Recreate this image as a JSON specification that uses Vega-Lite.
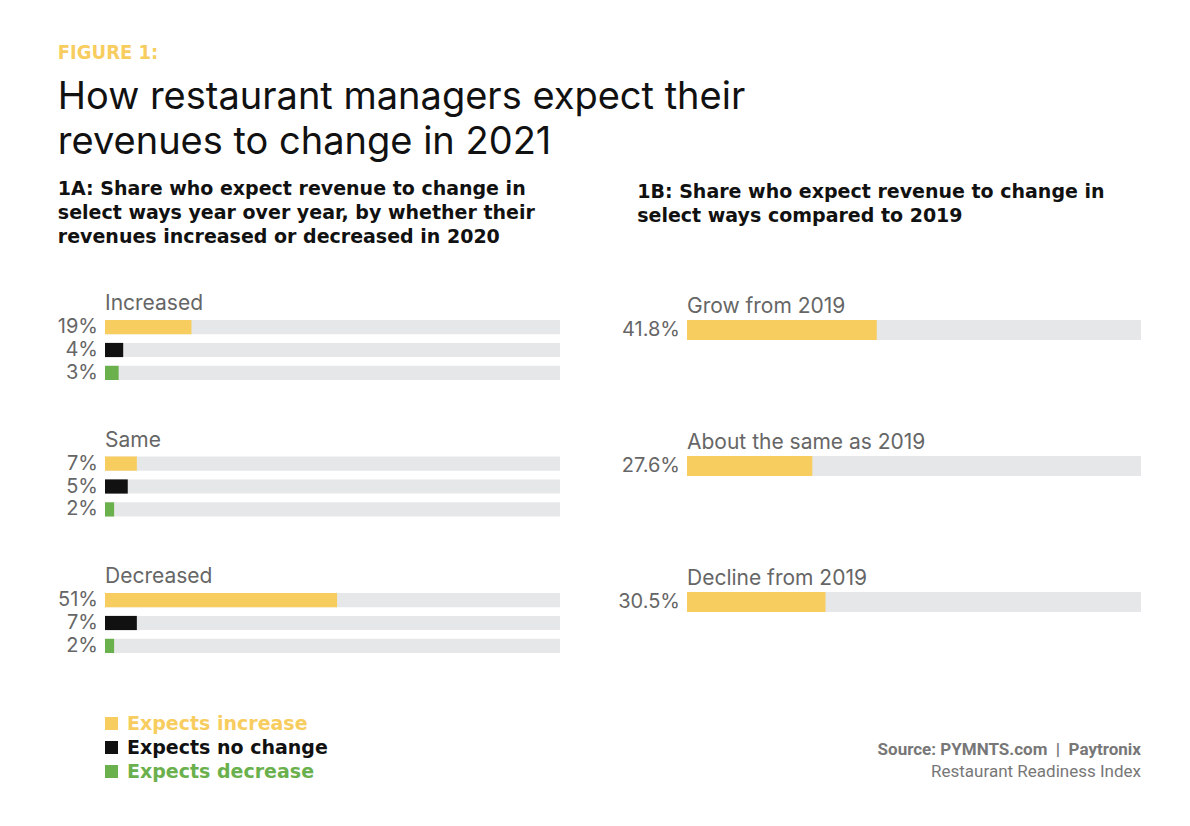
{
  "$schema": "https://vega.github.io/schema/vega-lite/v6.json",
  "background": "white",
  "padding": {"left": 57, "top": 43, "right": 30, "bottom": 20},
  "title": {
    "text": "FIGURE 1:",
    "subtitle": ["How restaurant managers expect their", "revenues to change in 2021"],
    "anchor": "start",
    "font": "DejaVu Sans Condensed",
    "fontSize": 20,
    "fontWeight": "bold",
    "color": "#f8cd5f",
    "subtitleFont": "Inter",
    "subtitleFontSize": 38,
    "subtitleColor": "#111111",
    "subtitleLineHeight": 45,
    "subtitlePadding": 16,
    "offset": 18
  },
  "config": {"view": {"stroke": null}, "font": "Inter"},
  "vconcat": [
    {
      "title": {
        "text": "Source: PYMNTS.com\u00a0\u00a0|\u00a0\u00a0Paytronix",
        "subtitle": "Restaurant Readiness Index",
        "orient": "bottom",
        "anchor": "end",
        "font": "Roboto",
        "fontSize": 17,
        "fontWeight": "bold",
        "color": "#777777",
        "subtitleFont": "Roboto",
        "subtitleFontSize": 17,
        "subtitleColor": "#777777",
        "subtitlePadding": 5,
        "offset": 86
      },
      "spacing": 58,
      "hconcat": [
        {
          "title": {
            "text": ["1A: Share who expect revenue to change in", "select ways year over year, by whether their", "revenues increased or decreased in 2020"],
            "anchor": "start",
            "font": "DejaVu Sans",
            "fontSize": 19,
            "fontWeight": "bold",
            "lineHeight": 24,
            "offset": 46,
            "color": "#111111"
          },
          "data": {
            "values": [
              {"group": "Increased", "series": "Expects increase", "value": 0.19},
              {"group": "Increased", "series": "Expects no change", "value": 0.04},
              {"group": "Increased", "series": "Expects decrease", "value": 0.03},
              {"group": "Same", "series": "Expects increase", "value": 0.07},
              {"group": "Same", "series": "Expects no change", "value": 0.05},
              {"group": "Same", "series": "Expects decrease", "value": 0.02},
              {"group": "Decreased", "series": "Expects increase", "value": 0.51},
              {"group": "Decreased", "series": "Expects no change", "value": 0.07},
              {"group": "Decreased", "series": "Expects decrease", "value": 0.02}
            ]
          },
          "facet": {
            "field": "group",
            "type": "nominal",
            "sort": ["Increased", "Same", "Decreased"],
            "header": {"title": null, "labelAnchor": "start", "labelAlign": "left", "labelFontSize": 21, "labelColor": "#666666", "labelFont": "Inter", "labelPadding": 3}
          },
          "columns": 1,
          "spacing": {"row": 46.5},
          "spec": {
            "width": 455,
            "height": 60,
            "encoding": {
              "y": {"field": "series", "type": "nominal", "sort": ["Expects increase", "Expects no change", "Expects decrease"], "axis": null, "scale": {"paddingInner": 0.38, "paddingOuter": 0, "align": 0}}
            },
            "layer": [
              {
                "mark": {"type": "bar", "color": "#e6e7e8"},
                "encoding": {
                  "x": {"datum": 1, "type": "quantitative", "scale": {"domain": [0, 1]}, "axis": null},
                  "x2": {"datum": 0}
                }
              },
              {
                "mark": {"type": "bar"},
                "encoding": {
                  "x": {"field": "value", "type": "quantitative", "scale": {"domain": [0, 1]}, "axis": null},
                  "color": {
                    "field": "series",
                    "type": "nominal",
                    "scale": {"domain": ["Expects increase", "Expects no change", "Expects decrease"], "range": ["#f8cd5f", "#111111", "#6ab04c"]},
                    "legend": {
                      "title": null,
                      "orient": "none",
                      "legendX": -3,
                      "legendY": 394,
                      "symbolType": "square",
                      "symbolSize": 169,
                      "symbolOpacity": 1,
                      "symbolStrokeWidth": 0,
                      "labelFont": "DejaVu Sans",
                      "labelFontSize": 19,
                      "labelFontWeight": "bold",
                      "labelOffset": 6,
                      "labelLimit": 400,
                      "rowPadding": 4,
                      "labelColor": {"expr": "datum.value === 'Expects increase' ? '#f8cd5f' : datum.value === 'Expects decrease' ? '#6ab04c' : '#111111'"}
                    }
                  }
                }
              },
              {
                "mark": {"type": "text", "align": "right", "baseline": "middle", "dx": -7, "fontSize": 20, "color": "#666666", "font": "Inter"},
                "encoding": {
                  "x": {"datum": 0, "type": "quantitative"},
                  "text": {"field": "value", "type": "quantitative", "format": ".0%"}
                }
              }
            ]
          }
        },
        {
          "title": {
            "text": ["1B: Share who expect revenue to change in", "select ways compared to 2019"],
            "anchor": "start",
            "font": "DejaVu Sans",
            "fontSize": 19,
            "fontWeight": "bold",
            "lineHeight": 24,
            "offset": 70,
            "dx": 19,
            "color": "#111111"
          },
          "data": {
            "values": [
              {"group": "Grow from 2019", "value": 0.418},
              {"group": "About the same as 2019", "value": 0.276},
              {"group": "Decline from 2019", "value": 0.305}
            ]
          },
          "facet": {
            "field": "group",
            "type": "nominal",
            "sort": ["Grow from 2019", "About the same as 2019", "Decline from 2019"],
            "header": {"title": null, "labelAnchor": "start", "labelAlign": "left", "labelFontSize": 21, "labelColor": "#666666", "labelFont": "Inter", "labelPadding": 3}
          },
          "columns": 1,
          "spacing": {"row": 52},
          "resolve": {"scale": {"y": "independent"}},
          "spec": {
            "width": 454,
            "height": 60,
            "encoding": {
              "y": {"field": "group", "type": "nominal", "axis": null, "scale": {"paddingInner": 0, "paddingOuter": 1.61, "align": 0}}
            },
            "layer": [
              {
                "mark": {"type": "bar", "color": "#e6e7e8"},
                "encoding": {
                  "x": {"datum": 1, "type": "quantitative", "scale": {"domain": [0, 1]}, "axis": null},
                  "x2": {"datum": 0}
                }
              },
              {
                "mark": {"type": "bar", "color": "#f8cd5f"},
                "encoding": {
                  "x": {"field": "value", "type": "quantitative", "scale": {"domain": [0, 1]}, "axis": null}
                }
              },
              {
                "mark": {"type": "text", "align": "right", "baseline": "middle", "dx": -7, "fontSize": 20, "color": "#666666", "font": "Inter"},
                "encoding": {
                  "x": {"datum": 0, "type": "quantitative"},
                  "text": {"field": "value", "type": "quantitative", "format": ".1%"}
                }
              }
            ]
          }
        }
      ]
    }
  ]
}
